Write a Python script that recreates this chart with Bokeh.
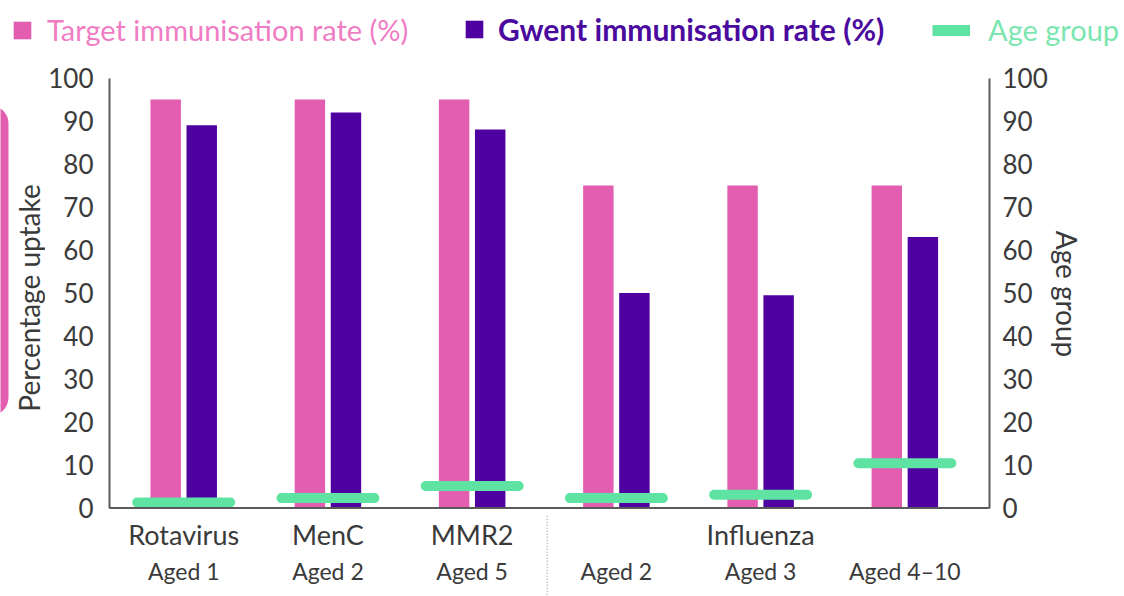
import numpy as np
from bokeh.plotting import figure
from bokeh.layouts import column, row
from bokeh.models import (ColumnDataSource, Range1d, LinearAxis, FixedTicker, Span,
                          Legend, LegendItem, BoxAnnotation)
from bokeh.core.properties import value
from bokeh.embed import file_html
from bokeh.resources import INLINE

# ---------------- data ----------------
vaccines = ["Rotavirus", "MenC", "MMR2", "Influenza"]
vaccine_pos = [0, 1, 2, 4]
age_labels = ["Aged 1", "Aged 2", "Aged 5", "Aged 2", "Aged 3", "Aged 4\u201310"]
group_pos = [0, 1, 2, 3, 4, 5]
target_rate = [95, 95, 95, 75, 75, 75]
gwent_rate = [89, 92, 88, 50, 49.5, 63]
age_group = [1.3, 2.3, 5.1, 2.3, 3.1, 10.4]
y_ticks = list(range(0, 101, 10))
y_title_left = "Percentage uptake"
y_title_right = "Age group"

# ---------------- styles / layout ----------------
PINK = "#E35DB0"
PURPLE = "#4E00A0"
GREEN = "#5EE3A3"
AXIS = "#5a5a5a"
TEXT = "#3a3a3a"
FONT = "Lato"

LEG_H = 60
MAIN_H = 596 - LEG_H
LEFT_W = 45
RIGHT_W = 74
MAIN_W = 1124 - LEFT_W - RIGHT_W
BORDER_L = 109 - LEFT_W
BORDER_R = MAIN_W - BORDER_L - 881
PX = 4.3  # pixels per percentage point


def plain_fig(w, h, xr, yr, left=0, right=0):
    fig = figure(width=w, height=h, output_backend="svg", toolbar_location=None,
                 x_axis_location=None, y_axis_location=None, x_range=xr, y_range=yr,
                 min_border_left=left, min_border_right=right, min_border_top=0,
                 min_border_bottom=0)
    fig.outline_line_color = None
    fig.grid.visible = False
    fig.background_fill_color = "white"
    fig.border_fill_color = "white"
    return fig


xs = np.array(group_pos, dtype=float)
src = ColumnDataSource(dict(
    xt=xs - 0.125, xg=xs + 0.125, target=target_rate, gwent=gwent_rate,
    x0=xs - 0.322, x1=xs + 0.322, age=age_group,
))

# ---------------- main chart ----------------
y_top = 100 + (77.5 - LEG_H) / PX
y_bottom = -(596 - 507.5) / PX
p = plain_fig(MAIN_W, MAIN_H, Range1d(-0.5145, 5.587), Range1d(y_bottom, y_top),
              left=BORDER_L, right=BORDER_R)

r_t = p.vbar(x="xt", top="target", width=0.211, source=src, fill_color=PINK, line_color=None)
r_g = p.vbar(x="xg", top="gwent", width=0.211, source=src, fill_color=PURPLE, line_color=None)
r_a = p.segment(x0="x0", y0="age", x1="x1", y1="age", source=src, line_color=GREEN,
                line_width=10, line_cap="round")

for side, standoff in (("left", 16), ("right", 13)):
    ax = LinearAxis(bounds=(0, 100), ticker=FixedTicker(ticks=y_ticks))
    ax.axis_line_color = AXIS
    ax.axis_line_width = 2
    ax.major_tick_line_color = None
    ax.minor_tick_line_color = None
    ax.major_tick_out = 0
    ax.major_tick_in = 0
    ax.major_label_standoff = standoff
    ax.major_label_text_font = FONT
    ax.major_label_text_font_size = "26px"
    ax.major_label_text_color = TEXT
    p.add_layout(ax, side)

p.add_layout(Span(location=0, dimension="width", line_color=AXIS, line_width=2))

p.text(x=vaccine_pos, y=[-6.2] * len(vaccines), text=vaccines, text_align="center",
       text_baseline="middle", text_font=value(FONT), text_font_size="27px", text_color=TEXT)
p.text(x=group_pos, y=[-14.6] * len(age_labels), text=age_labels, text_align="center",
       text_baseline="middle", text_font=value(FONT), text_font_size="23px", text_color=TEXT)

sep_x = 2.52
p.segment(x0=[sep_x], y0=[-1.8], x1=[sep_x], y1=[-21], line_color="#9a9a9a",
          line_width=1.2, line_dash="1 2")

# ---------------- side strips holding the axis titles ----------------
lt = plain_fig(LEFT_W, MAIN_H, Range1d(0, LEFT_W), Range1d(0, MAIN_H))
lt.add_layout(BoxAnnotation(left=-40, right=8, bottom=MAIN_H - 355, top=MAIN_H - 45,
                            fill_color=PINK, fill_alpha=1, line_color=None,
                            border_radius=18))
lt.text(x=[28], y=[MAIN_H - (297.5 - LEG_H)], text=[y_title_left], angle=np.pi / 2,
        text_align="center", text_baseline="middle", text_font=value(FONT),
        text_font_size="28px", text_color=TEXT)

rt = plain_fig(RIGHT_W, MAIN_H, Range1d(0, RIGHT_W), Range1d(0, MAIN_H))
rt.text(x=[16.5], y=[MAIN_H - (293.5 - LEG_H)], text=[y_title_right], angle=-np.pi / 2,
        text_align="center", text_baseline="middle", text_font=value(FONT),
        text_font_size="28px", text_color=TEXT)

# ---------------- legend strip ----------------
lf = plain_fig(1124, LEG_H, Range1d(0, 1), Range1d(0, 1))
l_t = lf.vbar(x="xt", top="target", width=0.211, source=src, fill_color=PINK,
              line_color=None, visible=False)
l_g = lf.vbar(x="xg", top="gwent", width=0.211, source=src, fill_color=PURPLE,
              line_color=None, visible=False)
l_a = lf.segment(x0="x0", y0="age", x1="x1", y1="age", source=src, line_color=GREEN,
                 line_width=11, visible=False)


def make_legend(label, renderer, loc, gw, gh, standoff, color, style, size):
    lg = Legend(items=[LegendItem(label=label, renderers=[renderer], index=0)], location=loc,
                orientation="horizontal", padding=0, margin=0, spacing=0,
                border_line_color=None, background_fill_alpha=0, inactive_fill_alpha=0,
                glyph_width=gw, glyph_height=gh, label_standoff=standoff,
                label_height=22, label_text_font=FONT, label_text_font_size=size,
                label_text_color=color, label_text_font_style=style)
    lf.add_layout(lg)


make_legend("Target immunisation rate (%)", l_t, (11, 13), 22, 22, 14, "#F07DC4", "normal", "29px")
make_legend("Gwent immunisation rate (%)", l_g, (463, 13), 22, 22, 13, "#4B0A9E", "bold", "30px")
make_legend("Age group", l_a, (932, 13), 38, 22, 18, "#7BE6B0", "normal", "29px")

layout = column(lf, row(lt, p, rt, spacing=0), spacing=0)
open("out.html", "w").write(file_html(layout, INLINE))
